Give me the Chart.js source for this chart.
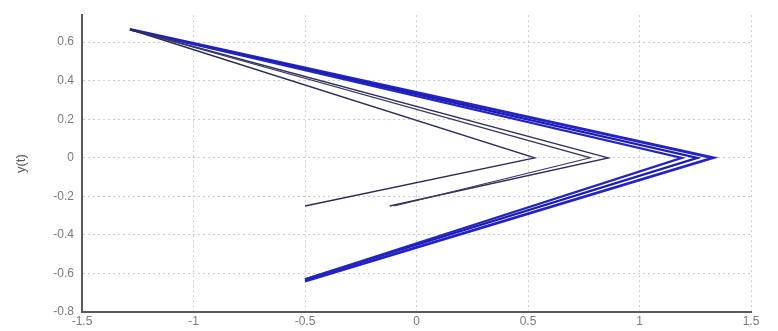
<!DOCTYPE html>
<html>
<head>
<meta charset="utf-8">
<script src="https://cdn.jsdelivr.net/npm/chart.js@4/dist/chart.umd.min.js"></script>
<style>
  html, body { margin: 0; padding: 0; background: #fff; }
  canvas { display: block; }
</style>
</head>
<body>
<canvas id="c" width="778" height="331"></canvas>
<script>
// every trajectory starts at the same point, turns at y = 0 and runs back left
const startX = -1.285;
const startY = 0.666;
const apexX = [0.53, 0.78, 0.86, 1.19, 1.26, 1.33];
const apexY = [0, 0, 0, 0, 0, 0];
const endX = [-0.5, -0.1, -0.12, -0.5, -0.5, -0.5];
const endY = [-0.25, -0.25, -0.25, -0.63, -0.63, -0.64];
const lineColors = ['#2c2c5a', '#3a3a5e', '#2e2e62', '#2424c0', '#1c1cb4', '#2222cc'];
const lineWidths = [1.4, 1.2, 1.4, 2.2, 2.2, 2.8];

const xTicks = [-1.5, -1, -0.5, 0, 0.5, 1, 1.5];
const yTicks = [-0.8, -0.6, -0.4, -0.2, 0, 0.2, 0.4, 0.6];

const datasets = apexX.map((ax, i) => ({
    data: [
        { x: startX, y: startY },
        { x: ax, y: apexY[i] },
        { x: endX[i], y: endY[i] }
    ],
    showLine: true,
    borderColor: lineColors[i],
    borderWidth: lineWidths[i],
    pointRadius: 0,
    fill: false,
    tension: 0
}));

const tickFont = { family: 'Liberation Sans, Arial, sans-serif', size: 12 };
const gridStyle = {
    color: '#cccccc',
    lineWidth: 1,
    drawTicks: false
};
// matlab style labels: 1 not 1.0
const fmt = (v) => String(Math.round(v * 10) / 10);

new Chart(document.getElementById('c'), {
    type: 'scatter',
    data: { datasets: datasets },
    options: {
        responsive: false,
        animation: false,
        layout: { padding: { top: 7, right: 27, left: 0, bottom: 0 } },
        plugins: { legend: { display: false }, tooltip: { enabled: false } },
        scales: {
            x: {
                type: 'linear',
                min: -1.5,
                max: 1.5,
                afterBuildTicks: (s) => { s.ticks = xTicks.map(v => ({ value: v })); },
                afterFit: (s) => { s.height = 19; },
                ticks: { color: '#7a7a7a', font: tickFont, padding: 2, callback: fmt },
                grid: Object.assign({}, gridStyle),
                border: { color: '#5a5a5a', width: 2, dash: [2, 3] }
            },
            y: {
                type: 'linear',
                min: -0.8,
                max: 0.74,
                afterBuildTicks: (s) => { s.ticks = yTicks.map(v => ({ value: v })); },
                afterFit: (s) => { s.width = 82; },
                ticks: { color: '#7a7a7a', font: tickFont, padding: 8, callback: fmt },
                grid: Object.assign({}, gridStyle),
                border: { color: '#5a5a5a', width: 2, dash: [2, 3] },
                title: {
                    display: true,
                    text: 'y(t)',
                    color: '#5a5a5a',
                    font: { family: 'Liberation Sans, Arial, sans-serif', size: 13 },
                    padding: { top: 14, bottom: 0 }
                }
            }
        }
    }
});
</script>
</body>
</html>
